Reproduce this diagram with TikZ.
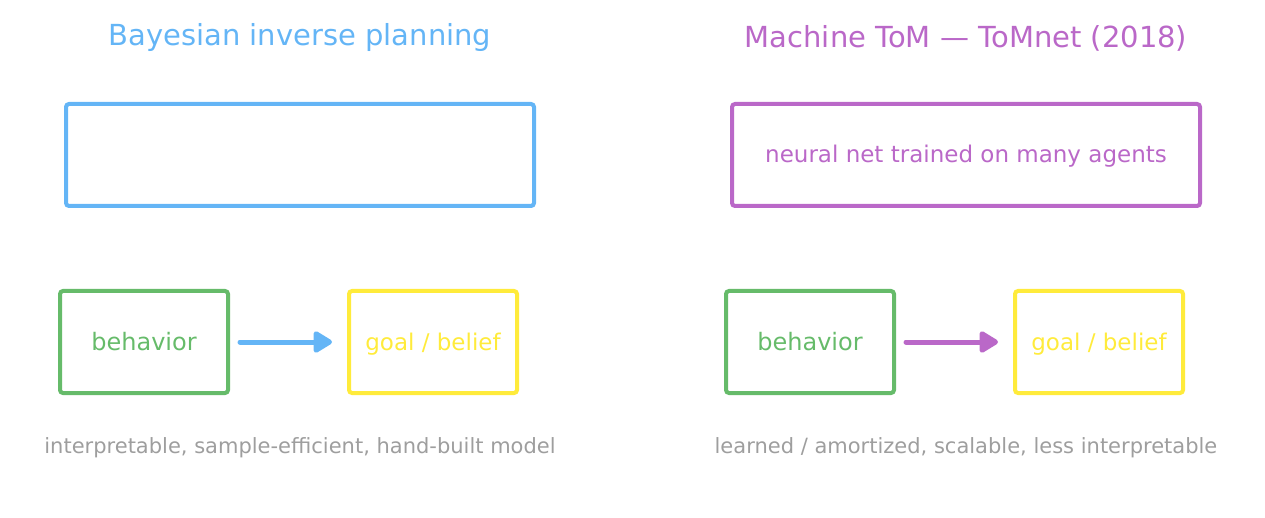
\documentclass[tikz,border=0pt]{standalone}
\usepackage{fontspec}
\setmainfont{DejaVu Sans}
\usetikzlibrary{arrows.meta}
\definecolor{cblue}{HTML}{64B5F6}
\definecolor{cpurple}{HTML}{BA68C8}
\definecolor{cgreen}{HTML}{66BB6A}
\definecolor{cyellow}{HTML}{FFEB3B}
\definecolor{cgray}{HTML}{9E9E9E}
\begin{document}
\begin{tikzpicture}[x=1pt,y=-1pt,
  >={Triangle[length=21pt,width=24pt,round]},
  box/.style={draw, line width=4pt, rounded corners=3pt, inner sep=0pt},
  title/.style={font=\fontsize{29}{34}\selectfont},
  lbl/.style={text height=21pt, text depth=5pt},
  lblbig/.style={lbl, font=\fontsize{24}{28}\selectfont},
  lblmid/.style={lbl, font=\fontsize{23}{27}\selectfont},
  captext/.style={font=\fontsize{21}{25}\selectfont, text=cgray},
  conn/.style={line width=5pt, line cap=round, ->}]
\useasboundingbox (0,0) rectangle (1265,518);
% left
\node[title, text=cblue] (tl) at (300,38) {Bayesian inverse planning};
\node[box, draw=cblue, minimum width=468pt, minimum height=102pt] (bl) at (300,155) {};
\node[box, draw=cgreen, text=cgreen, lblbig, minimum width=168pt, minimum height=102pt] (behl) at (144,342) {behavior};
\node[box, draw=cyellow, text=cyellow, lblmid, minimum width=168pt, minimum height=102pt] (goall) at (433,342) {goal / belief};
\draw[conn, cblue] ([xshift=10pt]behl.east) -- ([xshift=-15pt]goall.west);
\node[captext] (cl) at (300,448) {interpretable, sample-efficient, hand-built model};
% right
\node[title, text=cpurple] (tr) at (966,38) {Machine ToM — ToMnet (2018)};
\node[box, draw=cpurple, text=cpurple, lblmid, minimum width=468pt, minimum height=102pt] (br) at (966,155) {neural net trained on many agents};
\node[box, draw=cgreen, text=cgreen, lblbig, minimum width=168pt, minimum height=102pt] (behr) at (810,342) {behavior};
\node[box, draw=cyellow, text=cyellow, lblmid, minimum width=168pt, minimum height=102pt] (goalr) at (1099,342) {goal / belief};
\draw[conn, cpurple] ([xshift=10pt]behr.east) -- ([xshift=-15pt]goalr.west);
\node[captext] (cr) at (966,448) {learned / amortized, scalable, less interpretable};
\end{tikzpicture}
\end{document}
